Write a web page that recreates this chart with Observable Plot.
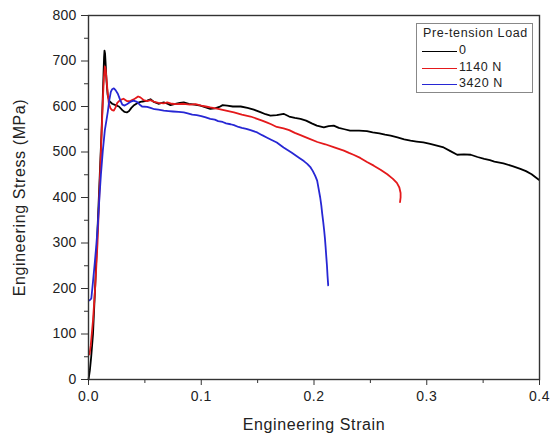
<!DOCTYPE html>
<html>
<head>
<meta charset="utf-8">
<script src="https://cdn.jsdelivr.net/npm/d3@7"></script>
<script src="https://cdn.jsdelivr.net/npm/@observablehq/plot@0.6"></script>
<style>
  html, body { margin: 0; padding: 0; background: #fff; }
  #wrap { position: relative; width: 552px; height: 436px; font-family: "Liberation Sans", Arial, sans-serif; }
  #wrap svg g[aria-label="x-axis tick label"] text { letter-spacing: 0.6px; font-size: 14px; }
  #wrap svg g[aria-label="y-axis tick label"] text { letter-spacing: 0.2px; font-size: 14px; }
  #wrap svg g[aria-label="x-axis label"] text,
  #wrap svg g[aria-label="y-axis label"] text { font-size: 16px; letter-spacing: 0.6px; fill: #222; }
  #legend { position: absolute; left: 416px; top: 23px; width: 115px; height: 68px;
    border: 1px solid #888; background: #fff; color: #222; font-size: 12.5px; letter-spacing: 0.6px; }
  #legend .title { position: absolute; left: 6px; top: 2px; white-space: nowrap; }
  #legend .row { position: absolute; left: 5px; height: 16px; white-space: nowrap; }
  #legend .sw { position: absolute; left: 0; top: 8px; width: 35px; height: 0; border-top: 1.5px solid; }
  #legend .lb { position: absolute; left: 37px; top: 0; }
</style>
</head>
<body>
<div id="wrap"></div>
<script>
// Series: Pre-tension load 0
const strain0 = [0,0.0012,0.0024,0.004,0.006,0.008,0.010,0.0115,0.0125,0.0133,0.0138,0.0142,0.0147,0.0153,0.016,0.017,0.0185,0.021,0.024,0.027,0.030,0.032,0.034,0.036,0.038,0.040,0.0425,0.0446,0.048,0.052,0.055,0.058,0.062,0.0668,0.070,0.0727,0.077,0.081,0.0845,0.089,0.094,0.0993,0.104,0.108,0.112,0.116,0.119,0.123,0.128,0.135,0.141,0.1466,0.153,0.157,0.1614,0.167,0.173,0.178,0.183,0.188,0.193,0.198,0.2025,0.2087,0.213,0.2175,0.222,0.227,0.232,0.24,0.247,0.252,0.258,0.263,0.268,0.274,0.28,0.2856,0.291,0.297,0.303,0.309,0.315,0.321,0.327,0.333,0.339,0.345,0.351,0.356,0.36,0.368,0.376,0.383,0.388,0.393,0.3994];
const stress0 = [0,20,50,100,210,330,450,540,610,670,708,723,716,690,655,625,612,606,603,600,592,588,587,590,597,602,606,609,611,613,616,610,606,609,606,603,606,608,609,606,604,602,598,595,596,599,603,602,600,600,597,593,587,583,580,581,584,578,575,573,569,563,558,554,557,558,553,550,547,547,546,543,541,538,536,532,528,525,523,521,518,514,510,502,494,495,494,489,485,482,479,475,469,463,458,451,439];

// Series: Pre-tension load 1140 N
const strain1140 = [0.0009,0.002,0.004,0.006,0.008,0.0095,0.011,0.0122,0.013,0.0137,0.0145,0.0152,0.016,0.017,0.018,0.0195,0.021,0.0225,0.024,0.0255,0.028,0.031,0.034,0.037,0.0395,0.0417,0.044,0.046,0.049,0.052,0.055,0.0585,0.062,0.0668,0.0698,0.074,0.078,0.0845,0.09,0.095,0.1,0.104,0.108,0.115,0.122,0.129,0.136,0.1437,0.1496,0.154,0.158,0.162,0.167,0.173,0.178,0.183,0.188,0.195,0.203,0.21,0.218,0.2265,0.231,0.235,0.241,0.247,0.253,0.259,0.265,0.27,0.2735,0.2757,0.2768,0.2768,0.2763];
const stress1140 = [55,75,130,205,300,400,500,580,630,665,688,682,660,630,607,596,592,591,598,608,614,617,612,612,615,618,622,620,614,612,614,610,608,607,609,606,605,606,604,605,602,600,598,595,591,587,582,578,573,569,565,561,555,552,548,542,537,530,522,517,510,503,498,494,487,478,470,461,451,441,432,422,410,400,390];

// Series: Pre-tension load 3420 N
const strain3420 = [0.0009,0.0018,0.0025,0.004,0.0055,0.0068,0.0083,0.0098,0.011,0.0127,0.0145,0.0158,0.0172,0.0185,0.0198,0.021,0.0225,0.024,0.026,0.028,0.030,0.032,0.034,0.037,0.040,0.043,0.0455,0.0475,0.052,0.055,0.0585,0.062,0.0668,0.071,0.075,0.080,0.0845,0.088,0.092,0.096,0.1,0.104,0.108,0.112,0.115,0.119,0.122,0.126,0.129,0.133,0.136,0.14,0.1437,0.1496,0.154,0.158,0.162,0.167,0.173,0.18,0.187,0.191,0.194,0.197,0.199,0.201,0.2028,0.2042,0.2055,0.2065,0.2073,0.2082,0.209,0.2097,0.2103,0.2109,0.2115,0.212,0.2126];
const stress3420 = [174,176,178,215,255,291,340,405,450,503,548,568,590,615,632,638,640,636,628,615,604,602,605,610,613,610,604,600,599,597,594,593,591,590,589,588,587,585,582,581,579,576,573,571,568,566,563,561,559,555,553,551,548,543,537,532,527,521,510,499,487,480,474,466,458,448,437,418,400,382,364,346,328,310,291,270,250,228,207];

const loads = ["0", "1140 N", "3420 N"];
const legendTitle = "Pre-tension Load";
const xTicks = [0, 0.1, 0.2, 0.3, 0.4];
const xMinor = [0.05, 0.15, 0.25, 0.35];
const yTicks = [0, 100, 200, 300, 400, 500, 600, 700, 800];
const yMinor = [50, 150, 250, 350, 450, 550, 650, 750];
const xLabel = "Engineering Strain";
const yLabel = "Engineering Stress (MPa)";

const colors = ["#000000", "#e4191b", "#2727d4"];

const seriesStrain = [strain0, strain1140, strain3420];
const seriesStress = [stress0, stress1140, stress3420];
const rows = loads.flatMap((load, i) =>
  seriesStrain[i].map((s, j) => ({load, strain: s, stress: seriesStress[i][j]})));

const chart = Plot.plot({
  width: 552,
  height: 436,
  marginLeft: 88,
  marginRight: 13,
  marginTop: 15,
  marginBottom: 57,
  style: {fontFamily: '"Liberation Sans", Arial, sans-serif', fontSize: "13px", color: "#222", background: "#fff", overflow: "visible"},
  x: {domain: [0, 0.4]},
  y: {domain: [0, 800]},
  color: {domain: loads, range: colors},
  marks: [
    Plot.axisX({ticks: xMinor, tickSize: 4, tickFormat: () => "", label: null, stroke: "#333"}),
    Plot.axisY({ticks: yMinor, tickSize: 4, tickFormat: () => "", label: null, stroke: "#333"}),
    Plot.axisX({ticks: xTicks, tickSize: 6, tickPadding: 6, tickFormat: d3.format(".1f"),
      label: xLabel, labelAnchor: "center", labelArrow: "none", labelOffset: 50, stroke: "#333"}),
    Plot.axisY({ticks: yTicks, tickSize: 7, tickPadding: 5, tickFormat: d3.format("d"),
      label: yLabel, labelAnchor: "center", labelArrow: "none", labelOffset: 75, stroke: "#333"}),
    Plot.line(rows, {x: "strain", y: "stress", z: "load", stroke: "load", strokeWidth: 1.8, curve: "linear"}),
    Plot.frame({stroke: "#333", strokeWidth: 1.4})
  ]
});

const wrap = document.getElementById("wrap");
wrap.appendChild(chart);

const legend = document.createElement("div");
legend.id = "legend";
const t = document.createElement("div");
t.className = "title";
t.textContent = legendTitle;
legend.appendChild(t);
loads.forEach((load, i) => {
  const r = document.createElement("div");
  r.className = "row";
  r.style.top = (19 + i * 16.5) + "px";
  const sw = document.createElement("div");
  sw.className = "sw";
  sw.style.borderTopColor = colors[i];
  const lb = document.createElement("div");
  lb.className = "lb";
  lb.textContent = load;
  r.appendChild(sw);
  r.appendChild(lb);
  legend.appendChild(r);
});
wrap.appendChild(legend);
</script>
</body>
</html>
